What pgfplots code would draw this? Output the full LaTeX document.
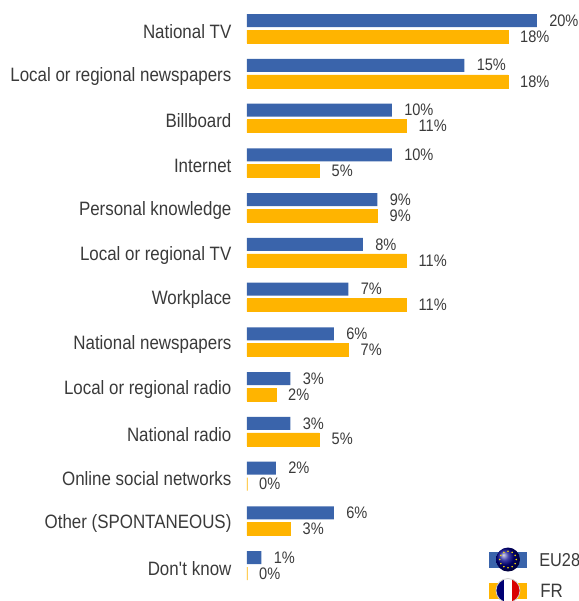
\documentclass[border=0pt]{standalone}
\usepackage{fontspec}
\setmainfont[FakeStretch=0.875]{Liberation Sans}
\usepackage{pgfplots}
\pgfplotsset{compat=1.18}
\definecolor{euBlue}{HTML}{3A64AB}
\definecolor{frOrange}{HTML}{FFB400}
\definecolor{txt}{HTML}{3A3A3A}
\begin{document}
\begin{tikzpicture}
\useasboundingbox (0,0) rectangle (434.25pt,-450.75pt);
\begin{axis}[
  at={(185.25pt,0pt)}, anchor=north west,
  scale only axis, width=249pt, height=450.75pt,
  xmin=0, xmax=22.897, ymin=-0.637, ymax=12.793, y dir=reverse,
  enlargelimits=false, clip=false,
  axis line style={draw=none},
  xtick=\empty,
  ytick={0,1,2,3,4,5,6,7,8,9,10,11,12},
  yticklabels={National TV,Local or regional newspapers,Billboard,Internet,Personal knowledge,Local or regional TV,Workplace,National newspapers,Local or regional radio,National radio,Online social networks,Other (SPONTANEOUS),Don\textquotesingle t know},
  major tick length=0pt,
  y tick label style={inner sep=0pt, xshift=-11.5pt, yshift=-2.2pt, font=\fontsize{14.5}{16}\selectfont, text=txt},
  xbar, bar width=9.75pt,
  /pgf/number format/assume math mode=true,
  nodes near coords={\pgfmathprintnumber{\pgfplotspointmeta}\%},
  every node near coord/.append style={font=\fontsize{12.5}{14}\selectfont, text=txt, inner sep=0pt, xshift=9pt, anchor=west},
  point meta=x,
]
\addplot[bar shift=6pt, fill=euBlue, draw=none] coordinates {
(20,0)(15,1)(10,2)(10,3)(9,4)(8,5)(7,6)(6,7)(3,8)(3,9)(2,10)(6,11)(1,12)};
\addplot[bar shift=-6pt, fill=frOrange, draw=frOrange, line width=0.3pt] coordinates {
(18,0)(18,1)(11,2)(5,3)(9,4)(11,5)(11,6)(7,7)(2,8)(5,9)(0,10)(3,11)(0,12)};
\end{axis}
% legend
\begin{scope}[x=0.75pt,y=-0.75pt]
\fill[euBlue] (489,552) rectangle (527,568);
\shade[ball color=blue!55!black] (508,559.5) circle (12);
\foreach \a in {0,30,...,330}{\fill[yellow!85!orange] (508,559.5)++(\a:8.3) circle (0.9);}
\node[anchor=west,inner sep=0pt,text=txt,font=\fontsize{14}{16}\selectfont] at (539,560) {EU28};
\fill[frOrange] (489,583) rectangle (527,599);
\begin{scope}
\clip (508,590.5) circle (12);
\fill[blue!45!black] (496,578) rectangle (504,603);
\fill[white] (504,578) rectangle (512,603);
\fill[red!85!black] (512,578) rectangle (520,603);
\end{scope}
\draw[gray!40,line width=0.6pt] (508,590.5) circle (12);
\node[anchor=west,inner sep=0pt,text=txt,font=\fontsize{14.5}{16}\selectfont] at (540,591) {FR};
\end{scope}
\end{tikzpicture}
\end{document}
